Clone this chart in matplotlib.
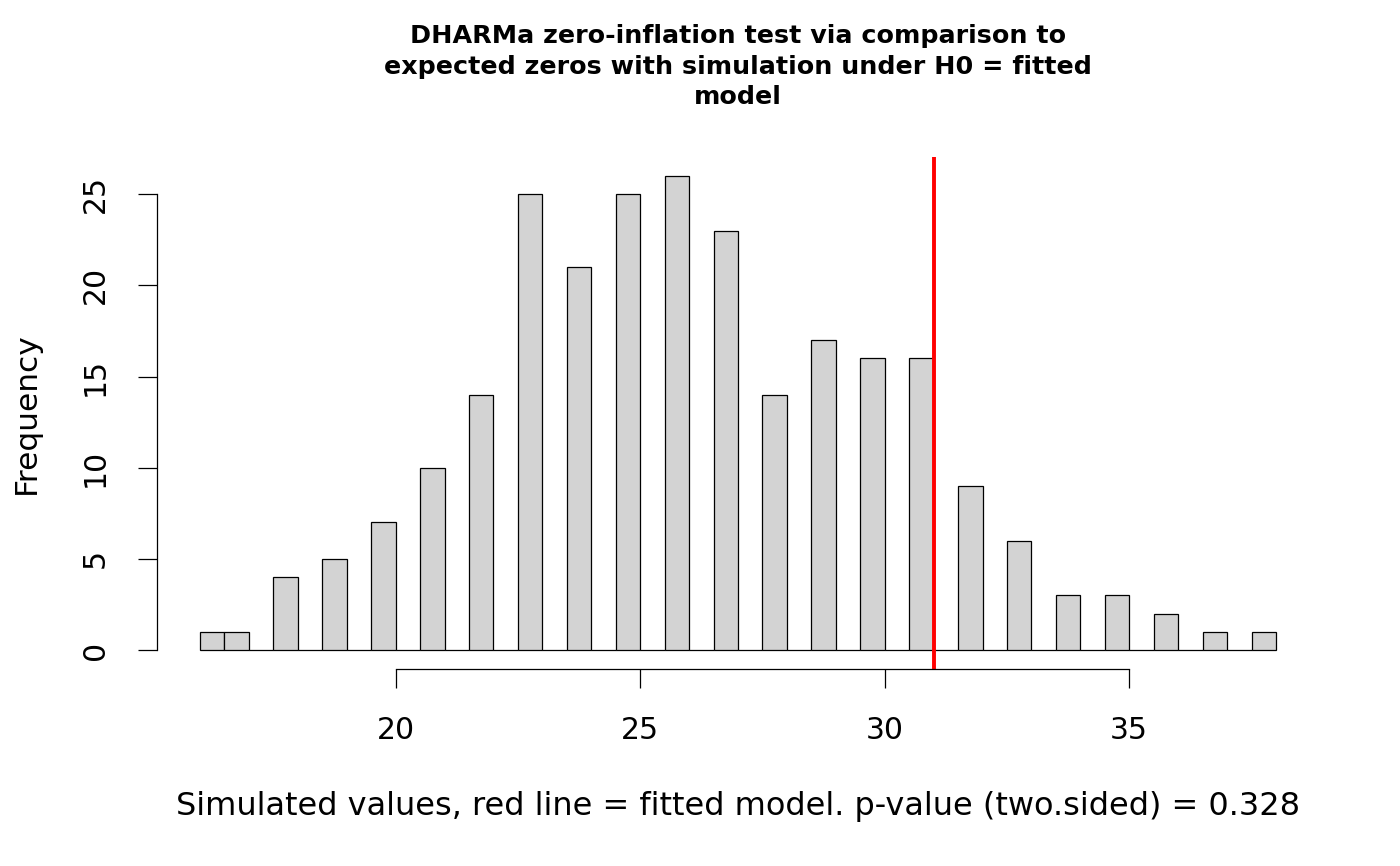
import numpy as np
from matplotlib import pyplot as plt

# simulated numbers of zeros and how often each came up
sim_values = [16, 17, 18, 19, 20, 21, 22, 23, 24, 25, 26, 27,
              28, 29, 30, 31, 32, 33, 34, 35, 36, 37, 38]
sim_counts = [1, 1, 4, 5, 7, 10, 14, 25, 21, 25, 26, 23,
              14, 17, 16, 16, 9, 6, 3, 3, 2, 1, 1]
observed = 31

title = ("DHARMa zero-inflation test via comparison to\n"
         "expected zeros with simulation under H0 = fitted\n"
         "model")
xlab = "Simulated values, red line = fitted model. p-value (two.sided) = 0.328"

plt.rcParams['font.family'] = ['DejaVu Sans']

# R style breaks, right closed, lowest included
edges = np.arange(min(sim_values), max(sim_values) + 0.5, 0.5)
idx = np.clip(np.searchsorted(edges, sim_values, side='left') - 1, 0, None)

fig = plt.figure(figsize=(14, 8.66), dpi=100)
ax = fig.add_axes([157 / 1400, 1 - 669 / 866, (1319 - 157) / 1400, (669 - 157) / 866])
ax.hist(edges[idx], bins=edges, weights=sim_counts, color='#D3D3D3',
        edgecolor='black', linewidth=0.9)
ax.axvline(observed, color='red', lw=2.8)

ax.set_xlim(15.12, 38.88)
ax.set_ylim(-1.04, 27.04)

for s in ['top', 'right']:
    ax.spines[s].set_visible(False)
ax.spines['left'].set_bounds(0, 25)
ax.spines['bottom'].set_bounds(20, 35)
for s in ['left', 'bottom']:
    ax.spines[s].set_linewidth(0.9)

ax.set_xticks([20, 25, 30, 35])
ax.set_yticks([0, 5, 10, 15, 20, 25])
ax.tick_params(length=14, width=0.9, pad=20, labelsize=21.5)
for lab in ax.get_yticklabels():
    lab.set_rotation(90)
    lab.set_va('center')

ax.set_xlabel(xlab, fontsize=23, labelpad=33)
ax.set_ylabel('Frequency', fontsize=22.5, labelpad=29)
ax.set_title(title, fontsize=18.3, fontweight='bold', pad=38, linespacing=1.35)

plt.savefig('out.png')
